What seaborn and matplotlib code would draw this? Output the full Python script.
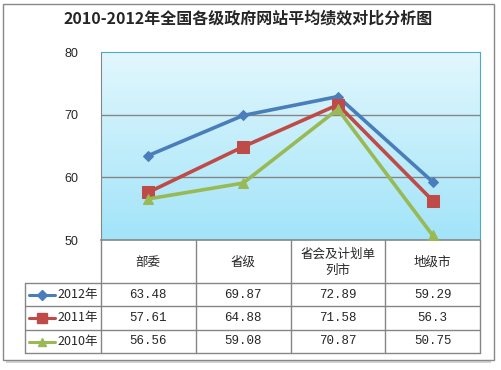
import numpy as np
import pandas as pd
import matplotlib
matplotlib.use('Agg')
import matplotlib.pyplot as plt
import seaborn as sns
from matplotlib.patches import Rectangle
from matplotlib.lines import Line2D

# data
categories = ['部委', '省级', '省会及计划单\n列市', '地级市']
years = ['2012年', '2011年', '2010年']
v2012 = [63.48, 69.87, 72.89, 59.29]
v2011 = [57.61, 64.88, 71.58, 56.3]
v2010 = [56.56, 59.08, 70.87, 50.75]
yticks = [50, 60, 70, 80]

colors = ['#4a7ebb', '#be4b48', '#98b954']
markers = ['D', 's', '^']
msizes = [5.5, 8, 7]

sns.set_style('white')
plt.rcParams['font.family'] = ['Noto Sans CJK SC', 'DejaVu Sans']

df = pd.DataFrame({
    'x': list(range(4)) * 3,
    'val': v2012 + v2011 + v2010,
    'year': [years[0]] * 4 + [years[1]] * 4 + [years[2]] * 4,
})

W, H = 502, 370
fig = plt.figure(figsize=(W / 100, H / 100), dpi=100)

def fx(px):
    return px / W

def fy(py):
    return 1 - py / H

# outer frame with shadow
fig.patches.append(Rectangle((fx(6), fy(363)), fx(491) - fx(6), fy(7) - fy(363),
                             transform=fig.transFigure, facecolor='#d4d4d4', edgecolor='none', zorder=0))
fig.patches.append(Rectangle((fx(3), fy(360)), fx(494) - fx(3), fy(4) - fy(360),
                             transform=fig.transFigure, facecolor='white', edgecolor='#888888', lw=1.0, zorder=1))

left, right, top, bottom = 101, 480, 52, 240
ax = fig.add_axes([fx(left), fy(bottom), fx(right) - fx(left), fy(top) - fy(bottom)])
ax.set_zorder(3)

# gradient background (light at top, deeper cyan at bottom)
grad = np.linspace(0, 1, 256).reshape(-1, 1)
c_top = np.array([0xe2, 0xf7, 0xfd]) / 255
c_bot = np.array([0xa2, 0xe4, 0xf9]) / 255
img = c_top + (c_bot - c_top) * grad[:, :, None]
ax.imshow(img, extent=[-0.5, 3.5, 50, 80], origin='upper', aspect='auto', zorder=0)

for y in yticks[1:-1]:
    ax.axhline(y, color='#868686', lw=1.0, zorder=1)

sns.lineplot(data=df, x='x', y='val', hue='year', palette=colors, hue_order=years,
             style='year', markers=dict(zip(years, markers)), dashes=False,
             lw=2.6, ax=ax, legend=False, zorder=3)
for line, m, s, c in zip(ax.get_lines()[-3:], markers, msizes, colors):
    line.set_markersize(s)
    line.set_markeredgecolor(c)
    line.set_markerfacecolor(c)
    line.set_clip_on(False)

ax.set_xlim(-0.5, 3.5)
ax.set_ylim(50, 80)
ax.set_yticks(yticks)
ax.set_yticklabels([str(t) for t in yticks], fontsize=9, family='Liberation Sans')
ax.tick_params(axis='y', length=0, pad=16)
ax.set_xticks([])
ax.set_xlabel('')
ax.set_ylabel('')
for side in ['top', 'right']:
    ax.spines[side].set_color('#4bacc6')
    ax.spines[side].set_linewidth(0.8)
ax.spines['left'].set_color('#868686')
ax.spines['bottom'].set_color('#868686')
ax.spines['bottom'].set_linewidth(1.2)

# title
fig.text(fx(248), fy(18), '2010-2012年全国各级政府网站平均绩效对比分析图', ha='center', va='center',
         fontsize=11.5, fontweight='bold', family=['Noto Sans CJK SC', 'DejaVu Sans'])

# data table
col_edges = np.linspace(left, right, len(categories) + 1)
row_edges = [bottom, 283, 306, 330, 353]
legend_left = 25
lc = '#868686'

def hline(y, x0, x1):
    fig.add_artist(Line2D([fx(x0), fx(x1)], [fy(y), fy(y)], color=lc, lw=1.0, zorder=4))

def vline(x, y0, y1):
    fig.add_artist(Line2D([fx(x), fx(x)], [fy(y0), fy(y1)], color=lc, lw=1.0, zorder=4))

for y in row_edges[1:]:
    hline(y, legend_left, right)
for x in col_edges:
    vline(x, bottom, row_edges[-1])
vline(legend_left, row_edges[1], row_edges[-1])

for i, cat in enumerate(categories):
    cx = (col_edges[i] + col_edges[i + 1]) / 2
    fig.text(fx(cx), fy((row_edges[0] + row_edges[1]) / 2 + 1), cat, ha='center', va='center',
             fontsize=9, linespacing=1.3)

for r, (vals, name) in enumerate(zip([v2012, v2011, v2010], years)):
    cy = (row_edges[r + 1] + row_edges[r + 2]) / 2
    for i, v in enumerate(vals):
        cx = (col_edges[i] + col_edges[i + 1]) / 2
        fig.text(fx(cx), fy(cy), f'{v:g}', ha='center', va='center', fontsize=9,
                 family='Liberation Mono')
    fig.add_artist(Line2D([fx(29), fx(55)], [fy(cy), fy(cy)], color=colors[r], lw=2.2, zorder=5))
    fig.add_artist(Line2D([fx(42)], [fy(cy)], marker=markers[r], ms=msizes[r] * 0.85, color=colors[r],
                          lw=0, zorder=6))
    fig.text(fx(57), fy(cy), name, ha='left', va='center', fontsize=9)

fig.savefig('out.png', dpi=100)
